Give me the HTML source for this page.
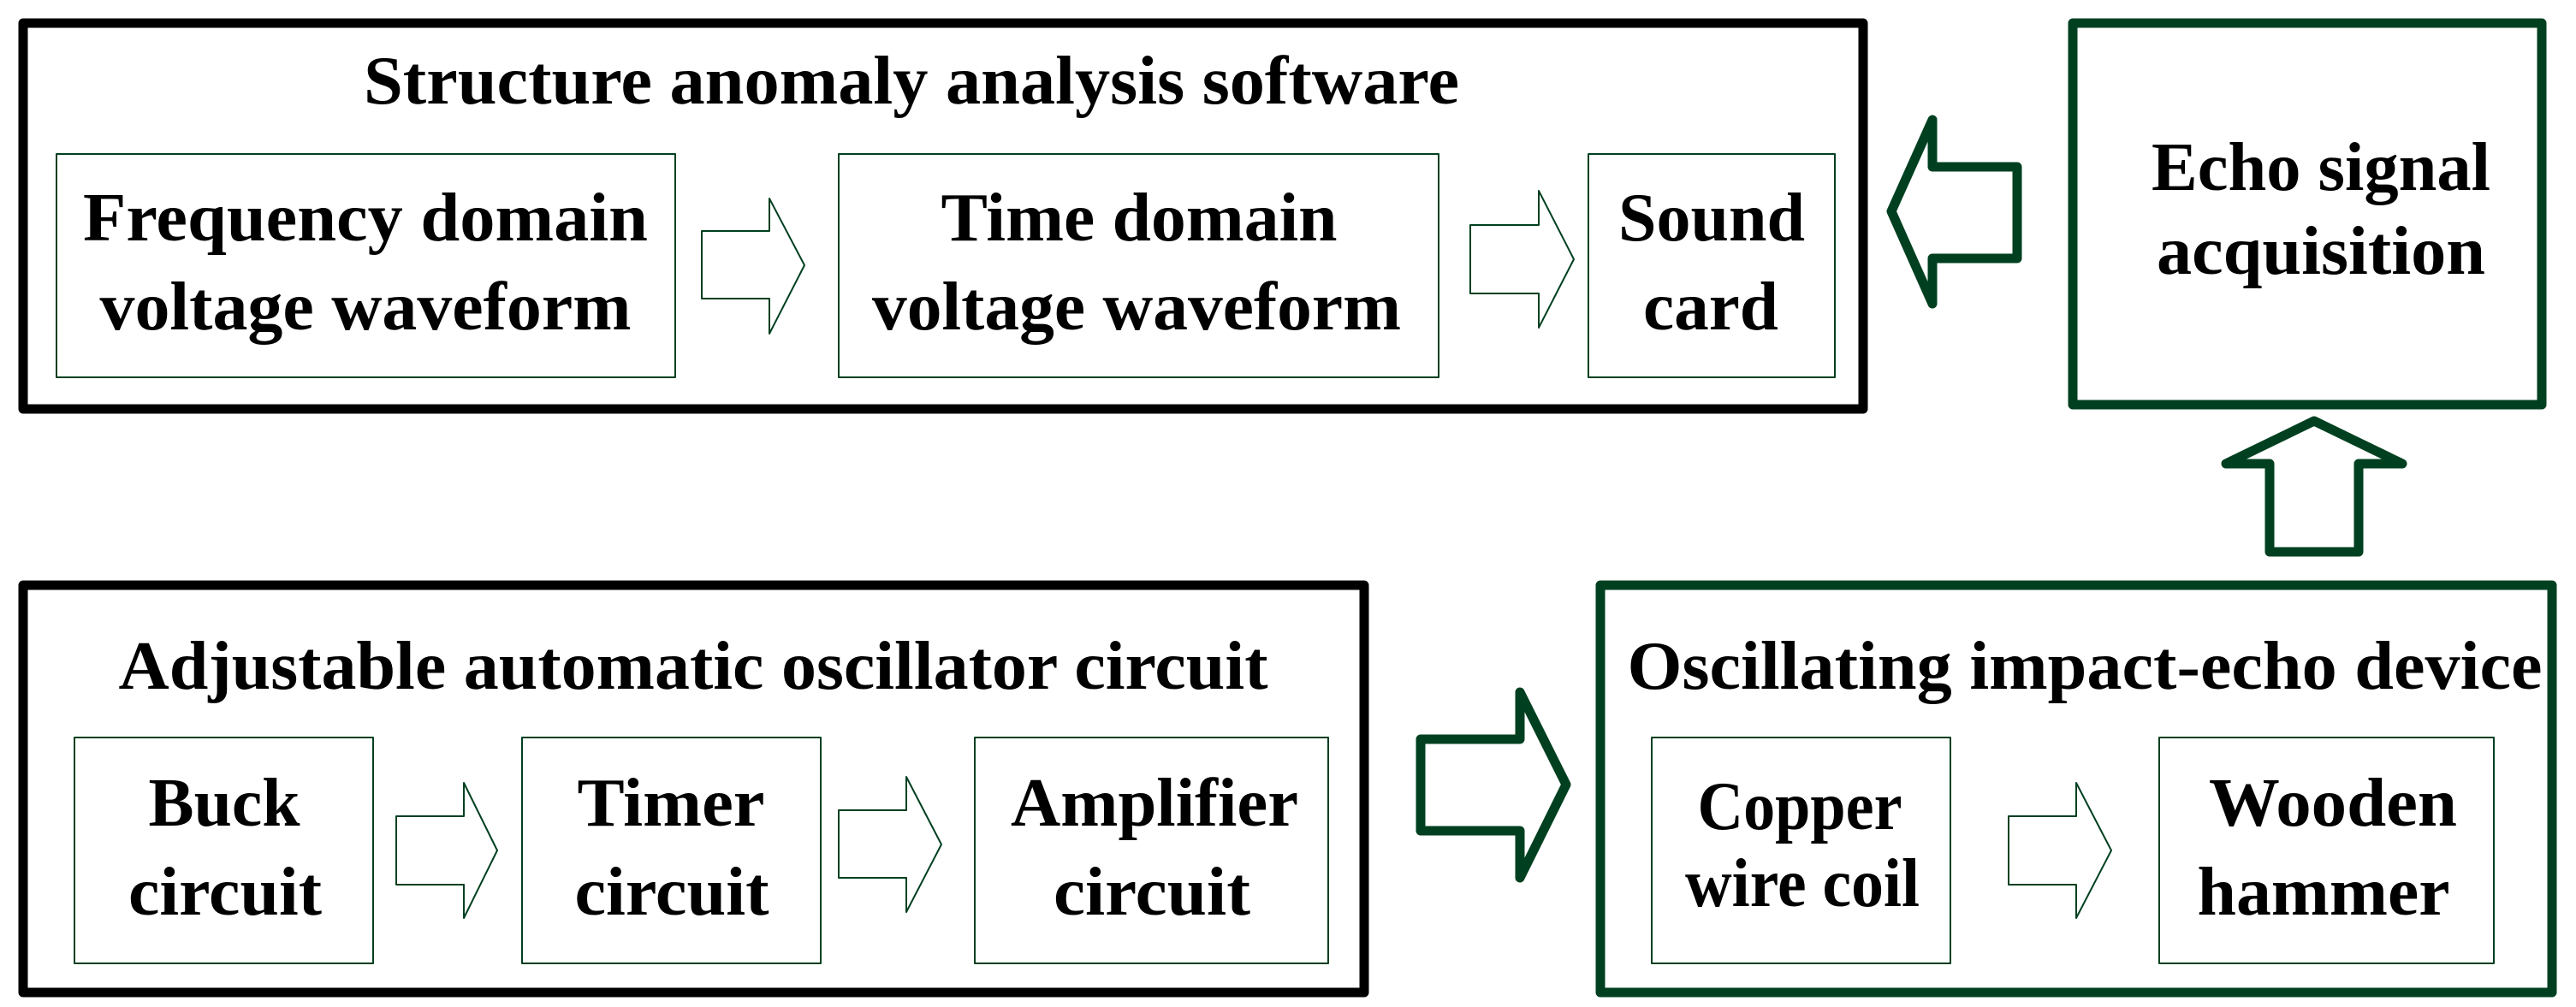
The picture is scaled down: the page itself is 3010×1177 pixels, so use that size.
<!DOCTYPE html>
<html><head><meta charset="utf-8"><style>
html,body{margin:0;padding:0;background:#fff;}
svg{display:block;}
text{font-family:"Liberation Serif",serif;font-weight:bold;fill:#000;font-size:80px;}
</style></head><body>
<svg width="3010" height="1177" viewBox="0 0 3010 1177" xmlns="http://www.w3.org/2000/svg">
<g fill="none" stroke-linejoin="round">
<rect x="27" y="27" width="2150" height="451" stroke="#000" stroke-width="11"/>
<rect x="2422" y="27" width="548" height="446" stroke="#004020" stroke-width="11"/>
<rect x="27" y="684" width="1567" height="476" stroke="#000" stroke-width="11"/>
<rect x="1870" y="684" width="1112" height="476" stroke="#004020" stroke-width="11"/>
<g stroke="#004020" stroke-width="2">
<rect x="66" y="180" width="723" height="261"/>
<rect x="980" y="180" width="701" height="261"/>
<rect x="1856" y="180" width="288" height="261"/>
<rect x="87" y="862" width="349" height="264"/>
<rect x="610" y="862" width="349" height="264"/>
<rect x="1139" y="862" width="413" height="264"/>
<rect x="1930" y="862" width="349" height="264"/>
<rect x="2523" y="862" width="391" height="264"/>
<polygon points="820,270 899,270 899,232 940,310 899,390 899,349 820,349"/>
<polygon points="1718,263 1798,263 1798,223 1839,303 1798,383 1798,343 1718,343"/>
<polygon points="463,954 542,954 542,915 581,994 542,1073 542,1034 463,1034"/>
<polygon points="980,947 1059,947 1059,908 1100,987 1059,1066 1059,1026 980,1026"/>
<polygon points="2347,954 2426,954 2426,915 2467,994 2426,1073 2426,1034 2347,1034"/>
</g>
<g stroke="#004020" stroke-width="11">
<polygon points="2210,247 2258,140 2258,195 2357,195 2357,302 2258,302 2258,355"/>
<polygon points="2704,492 2807,542 2756,542 2756,645 2652,645 2652,542 2601,542"/>
<polygon points="1660,864 1776,864 1776,809 1830,917 1776,1026 1776,971 1660,971"/>
</g>
</g>
<g text-anchor="middle">
<text x="1065" y="121" textLength="1280" lengthAdjust="spacingAndGlyphs" font-size="74">Structure anomaly analysis software</text>
<text x="427" y="281" textLength="660" lengthAdjust="spacingAndGlyphs">Frequency domain</text>
<text x="427" y="385" textLength="621" lengthAdjust="spacingAndGlyphs">voltage waveform</text>
<text x="1331" y="281" textLength="463" lengthAdjust="spacingAndGlyphs">Time domain</text>
<text x="1328" y="385" textLength="618" lengthAdjust="spacingAndGlyphs">voltage waveform</text>
<text x="2000" y="281" textLength="218" lengthAdjust="spacingAndGlyphs">Sound</text>
<text x="1999" y="385" textLength="158" lengthAdjust="spacingAndGlyphs">card</text>
<text x="2712" y="222" textLength="396" lengthAdjust="spacingAndGlyphs">Echo signal</text>
<text x="2712" y="320" textLength="384" lengthAdjust="spacingAndGlyphs">acquisition</text>
<text x="810" y="805" textLength="1343" lengthAdjust="spacingAndGlyphs" font-size="76">Adjustable automatic oscillator circuit</text>
<text x="262" y="965" textLength="177" lengthAdjust="spacingAndGlyphs">Buck</text>
<text x="263" y="1069" textLength="226" lengthAdjust="spacingAndGlyphs">circuit</text>
<text x="784" y="965" textLength="219" lengthAdjust="spacingAndGlyphs">Timer</text>
<text x="785" y="1069" textLength="227" lengthAdjust="spacingAndGlyphs">circuit</text>
<text x="1349" y="965" textLength="336" lengthAdjust="spacingAndGlyphs">Amplifier</text>
<text x="1346" y="1069" textLength="230" lengthAdjust="spacingAndGlyphs">circuit</text>
<text x="2436" y="805" textLength="1069" lengthAdjust="spacingAndGlyphs" font-size="76">Oscillating impact-echo device</text>
<text x="2103" y="969" textLength="239" lengthAdjust="spacingAndGlyphs" font-size="72">Copper</text>
<text x="2106" y="1059" textLength="274" lengthAdjust="spacingAndGlyphs" font-size="72">wire coil</text>
<text x="2726" y="965" textLength="290" lengthAdjust="spacingAndGlyphs">Wooden</text>
<text x="2715" y="1069" textLength="295" lengthAdjust="spacingAndGlyphs">hammer</text>
</g>
</svg>
</body></html>
